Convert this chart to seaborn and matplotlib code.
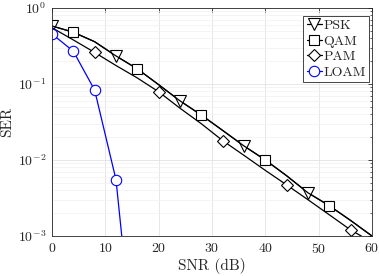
import numpy as np
import pandas as pd
import matplotlib
matplotlib.use("Agg")
import matplotlib.pyplot as plt
import seaborn as sns

# SNR grid (dB) and SER curves
snr = [0, 4, 8, 12, 16, 20, 24, 28, 32, 36, 40, 44, 48, 52, 56, 60]
psk_ser = [0.58, 0.48, 0.36, 0.234, 0.158, 0.098, 0.060, 0.039, 0.0245,
           0.0153, 0.0100, 0.0062, 0.0037, 0.0025, 0.0016, 0.00100]
qam_ser = [0.58, 0.48, 0.36, 0.234, 0.158, 0.098, 0.060, 0.039, 0.0245,
           0.0153, 0.0100, 0.0062, 0.0037, 0.0025, 0.0016, 0.00100]
pam_ser = [0.55, 0.38, 0.26, 0.175, 0.12, 0.079, 0.048, 0.030, 0.018,
           0.0115, 0.0073, 0.0047, 0.0030, 0.0019, 0.0012, 0.00083]
loam_snr = [0, 4, 8, 12, 16]
loam_ser = [0.455, 0.27, 0.083, 0.0055, 0.00001]

labels = ['PSK', 'QAM', 'PAM', 'LOAM']

sns.set_style('white')
plt.rcParams['font.family'] = 'serif'
plt.rcParams['font.serif'] = ['cmr10']
plt.rcParams['mathtext.fontset'] = 'cm'
plt.rcParams['axes.formatter.use_mathtext'] = True
plt.rcParams['font.size'] = 10

fig = plt.figure(figsize=(3.79, 2.76), dpi=100)
ax = fig.add_axes([52 / 379, 1 - 236 / 276, 320 / 379, 228 / 276])

series = [
    (snr, psk_ser, 'k', 'v', 8.5, [0, 3, 6, 9, 12]),
    (snr, qam_ser, 'k', 's', 6.5, [1, 4, 7, 10, 13]),
    (snr, pam_ser, 'k', 'D', 6.5, [2, 5, 8, 11, 14]),
    (loam_snr, loam_ser, '#0000ff', 'o', 7.5, None),
]
for (x, y, c, m, ms, every), lab in zip(series, labels):
    sns.lineplot(x=x, y=y, ax=ax, color=c, marker=m, markersize=ms,
                 markevery=every, mec=c, mfc='white', mew=0.8, lw=0.9,
                 dashes=False, label=lab)

ax.set_yscale('log')
ax.set_xlim(0, 60)
ax.set_ylim(1e-3, 1)
ax.set_xticks([0, 10, 20, 30, 40, 50, 60])
ax.set_yticks([1e-3, 1e-2, 1e-1, 1])

ax.grid(True, which='major', color='#e3e3e3', lw=0.6)
ax.grid(True, which='minor', axis='y', color='#f0f0f0', lw=0.5)
ax.tick_params(which='both', direction='in', top=True, right=True,
               colors='#262626', labelcolor='#262626')
ax.tick_params(which='major', length=3, width=0.6, pad=4)
ax.tick_params(which='minor', length=1.8, width=0.5)
for s in ax.spines.values():
    s.set_color('#262626')
    s.set_linewidth(0.6)

ax.set_xlabel('SNR (dB)', labelpad=2, fontsize=11)
ax.set_ylabel('SER', labelpad=3, fontsize=11)

leg = ax.legend(loc='upper right', bbox_to_anchor=(0.991, 0.965),
                handlelength=1.1, handletextpad=0.1,
                borderpad=0.25, labelspacing=0.2, borderaxespad=0,
                fancybox=False, edgecolor='#262626', framealpha=1,
                fontsize=10)
leg.get_frame().set_linewidth(0.6)

fig.savefig('out.png', dpi=100)
